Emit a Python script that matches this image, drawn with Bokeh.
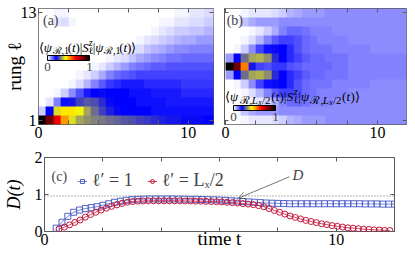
import numpy as np
from bokeh.plotting import figure
from bokeh.models import (LinearColorMapper, ColorBar, Label, Span, Arrow, OpenHead,
                          FixedTicker, Legend, LegendItem, LinearAxis, Range1d)
from bokeh.layouts import column, row
from bokeh.embed import file_html
from bokeh.resources import INLINE

SERIF = "Liberation Serif"

# ------------------------------------------------------------------
# Heat-map data: 24 time bins of width 0.5 covering t = 0 .. 12,
# one list per rung (rung 1 at the bottom).
# ------------------------------------------------------------------
heat_t0, heat_t1 = 0.0, 12.0
rung_lo, rung_hi = 1, 13

# panel (a): excitation started on rung 1
a_r01 = [1.00, 0.85, 0.68, 0.52, 0.40, 0.35, 0.33, 0.32, 0.31, 0.30, 0.29, 0.28, 0.27, 0.26, 0.25, 0.24, 0.23, 0.22, 0.22, 0.21, 0.21, 0.21, 0.20, 0.20]
a_r02 = [0.04, 0.20, 0.40, 0.45, 0.45, 0.42, 0.35, 0.30, 0.26, 0.23, 0.21, 0.20, 0.20, 0.20, 0.20, 0.19, 0.19, 0.19, 0.19, 0.19, 0.19, 0.19, 0.19, 0.19]
a_r03 = [0.00, 0.02, 0.10, 0.19, 0.22, 0.26, 0.28, 0.27, 0.24, 0.21, 0.20, 0.20, 0.20, 0.19, 0.19, 0.19, 0.19, 0.18, 0.18, 0.18, 0.18, 0.18, 0.18, 0.18]
a_r04 = [0.00, 0.00, 0.01, 0.04, 0.09, 0.14, 0.18, 0.20, 0.21, 0.20, 0.20, 0.20, 0.19, 0.19, 0.19, 0.18, 0.18, 0.18, 0.18, 0.17, 0.17, 0.17, 0.17, 0.17]
a_r05 = [0.00, 0.00, 0.00, 0.00, 0.01, 0.03, 0.06, 0.10, 0.13, 0.16, 0.17, 0.18, 0.18, 0.18, 0.17, 0.17, 0.17, 0.17, 0.17, 0.16, 0.16, 0.16, 0.16, 0.16]
a_r06 = [0.00, 0.00, 0.00, 0.00, 0.00, 0.01, 0.02, 0.04, 0.07, 0.10, 0.12, 0.13, 0.14, 0.15, 0.15, 0.15, 0.15, 0.15, 0.15, 0.15, 0.15, 0.15, 0.15, 0.15]
a_r07 = [0.00, 0.00, 0.00, 0.00, 0.00, 0.00, 0.00, 0.01, 0.02, 0.04, 0.06, 0.08, 0.10, 0.11, 0.12, 0.13, 0.13, 0.14, 0.14, 0.14, 0.14, 0.14, 0.14, 0.14]
a_r08 = [0.00, 0.00, 0.00, 0.00, 0.00, 0.00, 0.00, 0.00, 0.00, 0.01, 0.02, 0.03, 0.05, 0.07, 0.08, 0.09, 0.10, 0.11, 0.11, 0.12, 0.12, 0.12, 0.12, 0.12]
a_r09 = [0.00, 0.00, 0.00, 0.00, 0.00, 0.00, 0.00, 0.00, 0.00, 0.00, 0.00, 0.01, 0.02, 0.03, 0.05, 0.06, 0.07, 0.08, 0.09, 0.09, 0.10, 0.10, 0.10, 0.10]
a_r10 = [0.00, 0.00, 0.00, 0.00, 0.00, 0.00, 0.00, 0.00, 0.00, 0.00, 0.00, 0.00, 0.00, 0.01, 0.02, 0.03, 0.04, 0.05, 0.06, 0.07, 0.07, 0.08, 0.08, 0.08]
a_r11 = [0.00, 0.00, 0.00, 0.00, 0.00, 0.00, 0.00, 0.00, 0.00, 0.00, 0.00, 0.00, 0.00, 0.00, 0.00, 0.01, 0.02, 0.03, 0.04, 0.04, 0.05, 0.05, 0.06, 0.06]
a_r12 = [0.00, 0.00, 0.02, 0.03, 0.01, 0.00, 0.00, 0.00, 0.00, 0.00, 0.00, 0.00, 0.00, 0.00, 0.00, 0.00, 0.01, 0.01, 0.02, 0.02, 0.03, 0.03, 0.04, 0.04]
a_r13 = [0.00, 0.00, 0.01, 0.01, 0.00, 0.00, 0.00, 0.00, 0.00, 0.00, 0.00, 0.00, 0.00, 0.00, 0.00, 0.00, 0.00, 0.00, 0.01, 0.01, 0.02, 0.02, 0.03, 0.03]

# panel (b): excitation started on the central rung
b_r01 = [0.00, 0.00, 0.01, 0.02, 0.02, 0.02, 0.03, 0.04, 0.06, 0.07, 0.08, 0.08, 0.08, 0.09, 0.09, 0.09, 0.09, 0.09, 0.09, 0.09, 0.09, 0.09, 0.09, 0.09]
b_r02 = [0.00, 0.01, 0.05, 0.07, 0.08, 0.08, 0.08, 0.09, 0.09, 0.09, 0.09, 0.09, 0.09, 0.09, 0.09, 0.09, 0.09, 0.09, 0.09, 0.09, 0.09, 0.09, 0.09, 0.09]
b_r03 = [0.00, 0.00, 0.00, 0.01, 0.02, 0.04, 0.07, 0.10, 0.12, 0.12, 0.11, 0.10, 0.10, 0.10, 0.09, 0.09, 0.09, 0.09, 0.09, 0.09, 0.09, 0.09, 0.09, 0.09]
b_r04 = [0.00, 0.00, 0.01, 0.03, 0.06, 0.10, 0.13, 0.15, 0.15, 0.14, 0.12, 0.11, 0.10, 0.10, 0.10, 0.10, 0.09, 0.09, 0.09, 0.09, 0.09, 0.09, 0.09, 0.09]
b_r05 = [0.00, 0.01, 0.04, 0.09, 0.15, 0.19, 0.21, 0.20, 0.17, 0.14, 0.12, 0.11, 0.11, 0.11, 0.10, 0.10, 0.10, 0.10, 0.10, 0.09, 0.09, 0.09, 0.09, 0.09]
b_r06 = [0.08, 0.20, 0.30, 0.35, 0.36, 0.33, 0.24, 0.20, 0.17, 0.15, 0.13, 0.12, 0.12, 0.11, 0.11, 0.11, 0.10, 0.10, 0.10, 0.10, 0.10, 0.10, 0.10, 0.10]
b_r07 = [1.00, 0.85, 0.55, 0.22, 0.15, 0.14, 0.16, 0.16, 0.14, 0.13, 0.12, 0.12, 0.12, 0.12, 0.11, 0.11, 0.10, 0.10, 0.10, 0.10, 0.10, 0.10, 0.10, 0.10]
b_r08 = [0.08, 0.20, 0.30, 0.35, 0.36, 0.33, 0.24, 0.20, 0.17, 0.15, 0.13, 0.12, 0.12, 0.11, 0.11, 0.11, 0.10, 0.10, 0.10, 0.10, 0.10, 0.10, 0.10, 0.10]
b_r09 = [0.00, 0.01, 0.04, 0.09, 0.15, 0.19, 0.21, 0.20, 0.17, 0.14, 0.12, 0.11, 0.11, 0.11, 0.10, 0.10, 0.10, 0.10, 0.10, 0.09, 0.09, 0.09, 0.09, 0.09]
b_r10 = [0.00, 0.00, 0.01, 0.03, 0.06, 0.10, 0.13, 0.15, 0.15, 0.14, 0.12, 0.11, 0.10, 0.10, 0.10, 0.10, 0.09, 0.09, 0.09, 0.09, 0.09, 0.09, 0.09, 0.09]
b_r11 = [0.00, 0.00, 0.00, 0.01, 0.02, 0.04, 0.07, 0.10, 0.12, 0.12, 0.11, 0.10, 0.10, 0.10, 0.09, 0.09, 0.09, 0.09, 0.09, 0.09, 0.09, 0.09, 0.09, 0.09]
b_r12 = [0.00, 0.01, 0.05, 0.07, 0.08, 0.08, 0.08, 0.09, 0.09, 0.09, 0.09, 0.09, 0.09, 0.09, 0.09, 0.09, 0.09, 0.09, 0.09, 0.09, 0.09, 0.09, 0.09, 0.09]
b_r13 = [0.00, 0.00, 0.01, 0.02, 0.02, 0.02, 0.03, 0.04, 0.06, 0.07, 0.08, 0.08, 0.08, 0.09, 0.09, 0.09, 0.09, 0.09, 0.09, 0.09, 0.09, 0.09, 0.09, 0.09]

# ------------------------------------------------------------------
# Panel (c): D(t) for the two initial rungs
# ------------------------------------------------------------------
t_first_l1, dt_l1 = 0.4, 0.2
D_l1 = [0.09, 0.25, 0.41, 0.52, 0.58, 0.62, 0.645, 0.67, 0.71, 0.75,
        0.79, 0.82, 0.845, 0.86, 0.87, 0.875, 0.88, 0.88, 0.88, 0.88,
        0.88, 0.875, 0.875, 0.87, 0.87, 0.865, 0.86, 0.855, 0.85, 0.84,
        0.83, 0.82, 0.81, 0.80, 0.79, 0.78, 0.77, 0.765, 0.76, 0.755,
        0.75, 0.75, 0.75, 0.75, 0.75, 0.75, 0.75, 0.75, 0.75, 0.75,
        0.75, 0.75, 0.75, 0.745, 0.745, 0.745, 0.74, 0.74, 0.74]
t_first_lh, dt_lh = 0.5, 0.18
D_lh = [0.07, 0.12, 0.18, 0.245, 0.31, 0.39, 0.46, 0.52, 0.58, 0.63,
        0.68, 0.72, 0.76, 0.79, 0.81, 0.82, 0.825, 0.83, 0.83, 0.83,
        0.83, 0.83, 0.83, 0.83, 0.825, 0.825, 0.82, 0.82, 0.815, 0.81,
        0.805, 0.80, 0.79, 0.78, 0.77, 0.755, 0.74, 0.725, 0.70, 0.67,
        0.62, 0.57, 0.52, 0.47, 0.42, 0.38, 0.34, 0.30, 0.27, 0.24,
        0.21, 0.185, 0.16, 0.14, 0.12, 0.10, 0.09, 0.075, 0.065, 0.055,
        0.045, 0.04, 0.03, 0.025]
D_ref_level = 0.96

x_ticks_heat = [0, 2, 4, 6, 8, 10]
x_labels_heat = [0, 10]
y_ticks_heat = [1, 13]
x_ticks_c = [0, 2, 4, 6, 8, 10, 12]
x_labels_c = [0, 10]
y_ticks_c = [0, 1, 2]

BLUE = "#4f62c9"
RED = "#c4173a"
FRAME = "#5a5a5a"

# ------------------------------------------------------------------
# colour map white -> blue -> yellow -> red -> black
# ------------------------------------------------------------------
anchors = [(0.0, (255, 255, 255)), (0.2, (0, 0, 255)), (0.43, (255, 255, 0)),
           (0.66, (255, 0, 0)), (1.0, (0, 0, 0))]


def make_palette(n=256):
    pal = []
    for i in range(n):
        v = i / (n - 1)
        for (v0, c0), (v1, c1) in zip(anchors[:-1], anchors[1:]):
            if v0 <= v <= v1:
                f = (v - v0) / (v1 - v0)
                c = [int(round(a + (b - a) * f)) for a, b in zip(c0, c1)]
                break
        pal.append("#%02x%02x%02x" % tuple(c))
    return pal


mapper = LinearColorMapper(palette=make_palette(), low=0.0, high=1.0)

EM = {'⟨': 0.39, '⟩': 0.39, 'ψ': 0.69, 'ℛ': 0.8, ',': 0.25, '1': 0.5, '(': 0.33,
      ')': 0.33, 't': 0.28, '|': 0.2, 'S': 0.5, 'z': 0.39, 'ℓ': 0.42, 'L': 0.56,
      'x': 0.44, '/': 0.28, '2': 0.5, ' ': 0.25}


def text_width(s, size):
    return sum(EM.get(ch, 0.5) for ch in s) * size


def rich(p, x, y, parts, x0=0.0, gap=1.0):
    dx = x0
    for text, size, dy, style, adv in parts:
        p.add_layout(Label(x=x, y=y, x_offset=dx, y_offset=dy, text=text,
                           text_font=SERIF, text_font_size=f"{size}px",
                           text_font_style=style, text_baseline="alphabetic",
                           text_align="left", text_color="black"))
        if adv:
            dx += text_width(text, size) * gap


def style_axis(ax, ticks, shown, size="16px", hide=False):
    ax.ticker = FixedTicker(ticks=ticks)
    ax.major_label_overrides = {t: (str(t) if (t in shown and not hide) else "") for t in ticks}
    ax.major_tick_in = 4
    ax.major_tick_out = 0
    ax.minor_tick_line_color = None
    ax.axis_line_color = None
    ax.major_tick_line_color = FRAME
    ax.major_label_text_font = SERIF
    ax.major_label_text_font_size = "0px" if hide else size
    ax.major_label_standoff = 0 if hide else 2
    ax.major_label_text_color = "black"
    ax.axis_label_text_font = SERIF
    ax.axis_label_text_color = "black"


def mirror(p, xticks, yticks):
    top = LinearAxis()
    style_axis(top, xticks, [], hide=True)
    p.add_layout(top, "above")
    right = LinearAxis()
    style_axis(right, yticks, [], hide=True)
    p.add_layout(right, "right")


def base_fig(w, h, xr, yr, bl, br, bt, bb):
    p = figure(width=w, height=h, x_range=Range1d(*xr), y_range=Range1d(*yr),
               output_backend="svg", toolbar_location=None,
               min_border_left=bl, min_border_right=br, min_border_top=bt,
               min_border_bottom=bb)
    p.xgrid.visible = False
    p.ygrid.visible = False
    p.outline_line_color = FRAME
    p.outline_line_width = 1
    p.background_fill_color = "white"
    p.border_fill_color = "white"
    return p


def heat_panel(p, rows):
    img = np.array(rows, dtype=float)
    p.image(image=[img], x=heat_t0, y=rung_lo - 0.5, dw=heat_t1 - heat_t0,
            dh=rung_hi - rung_lo + 1, color_mapper=mapper)


def colour_bar(loc):
    return ColorBar(color_mapper=mapper, orientation="horizontal", location=loc,
                    width=42, height=5, padding=0, margin=0,
                    ticker=FixedTicker(ticks=[0, 1]), major_label_text_font=SERIF,
                    major_label_text_font_size="13px", major_tick_line_color=None,
                    bar_line_color="black", border_line_color=None,
                    background_fill_alpha=0, label_standoff=2)


def bracket_parts(sub_parts, M=13):
    return ([("⟨", M, 0, "normal", True), ("ψ", M, 0, "italic", True)] + sub_parts +
            [("(", M, 0, "normal", True), ("t", M, 0, "italic", True),
             (")|", M, 0, "normal", True), ("S", M, 0, "italic", True),
             ("z", 10, 5, "italic", False), ("ℓ", 10, -3, "normal", True),
             ("|", M, 0, "normal", True), ("ψ", M, 0, "italic", True)] + sub_parts +
            [("(", M, 0, "normal", True), ("t", M, 0, "italic", True),
             (")⟩", M, 0, "normal", True)])


# ------------------------------------------------------------------
# panel (a)
# ------------------------------------------------------------------
pa = base_fig(216, 145, (0, 11.69), (0.5, 13.5), 33, 3, 8, 21)
heat_panel(pa, [a_r01, a_r02, a_r03, a_r04, a_r05, a_r06, a_r07, a_r08, a_r09,
                a_r10, a_r11, a_r12, a_r13])
style_axis(pa.xaxis[0], x_ticks_heat, x_labels_heat)
style_axis(pa.yaxis[0], y_ticks_heat, y_ticks_heat)
pa.yaxis[0].axis_label = "rung ℓ"
pa.yaxis[0].axis_label_text_font_size = "19px"
pa.yaxis[0].axis_label_text_font_style = "normal"
pa.yaxis[0].axis_label_standoff = -7
mirror(pa, x_ticks_heat, y_ticks_heat)
pa.add_layout(Label(x=0.3, y=12.15, text="(a)", text_font=SERIF, text_font_size="14px",
                    text_baseline="middle", text_align="left"))
pa.add_layout(colour_bar((9, 51)))
rich(pa, 0.02, 9.13, bracket_parts([("ℛ,1", 10, -3, "normal", True)]), gap=0.98)

# ------------------------------------------------------------------
# panel (b)
# ------------------------------------------------------------------
pb = base_fig(191, 145, (-0.07, 11.9), (0.5, 13.5), 8, 1, 8, 21)
heat_panel(pb, [b_r01, b_r02, b_r03, b_r04, b_r05, b_r06, b_r07, b_r08, b_r09,
                b_r10, b_r11, b_r12, b_r13])
style_axis(pb.xaxis[0], x_ticks_heat, x_labels_heat)
style_axis(pb.yaxis[0], y_ticks_heat, [], hide=True)
mirror(pb, x_ticks_heat, y_ticks_heat)
pb.add_layout(Label(x=0.07, y=12.15, text="(b)", text_font=SERIF, text_font_size="14px",
                    text_baseline="middle", text_align="left"))
pb.add_layout(colour_bar((9, 1)))
rich(pb, -0.06, 3.63, bracket_parts([("ℛ,", 11, -3, "normal", True),
                                     ("L", 11, -3, "italic", True),
                                     ("x", 8, -6, "italic", True),
                                     ("/2", 11, -3, "normal", True)]), gap=1.06)

# ------------------------------------------------------------------
# panel (c)
# ------------------------------------------------------------------
pc = base_fig(407, 108, (0, 12), (0, 2), 41, 13, 12, 22)
style_axis(pc.xaxis[0], x_ticks_c, x_labels_c)
style_axis(pc.yaxis[0], y_ticks_c, y_ticks_c)
pc.xaxis[0].axis_label = "time t"
pc.xaxis[0].axis_label_text_font_size = "19px"
pc.xaxis[0].axis_label_text_font_style = "normal"
pc.xaxis[0].axis_label_standoff = -20
pc.yaxis[0].axis_label = "D(t)"
pc.yaxis[0].axis_label_text_font_size = "18px"
pc.yaxis[0].axis_label_text_font_style = "italic"
pc.yaxis[0].axis_label_standoff = 8
mirror(pc, x_ticks_c, y_ticks_c)

t_l1 = [round(t_first_l1 + dt_l1 * i, 3) for i in range(len(D_l1))]
t_lh = [round(t_first_lh + dt_lh * i, 3) for i in range(len(D_lh))]

pc.add_layout(Span(location=D_ref_level, dimension="width", line_color="#666666",
                   line_dash="1 2", line_width=1))
bl = pc.line(t_l1, D_l1, line_color=BLUE, line_width=0.8)
bs = pc.scatter(t_l1, D_l1, marker="square", size=6, fill_color=None,
                line_color=BLUE, line_width=1)
rl = pc.line(t_lh, D_lh, line_color=RED, line_width=0.8)
rs = pc.scatter(t_lh, D_lh, marker="circle", size=6, fill_color=None,
                line_color=RED, line_width=1)

legend = Legend(items=[LegendItem(label="ℓ′ = 1", renderers=[bl, bs]),
                       LegendItem(label="ℓ′ = Lₓ/2", renderers=[rl, rs])],
                orientation="horizontal", location=(33, 40), glyph_width=10,
                glyph_height=10, label_standoff=5, spacing=14, padding=0, margin=0,
                background_fill_alpha=0, border_line_color=None,
                label_text_font=SERIF, label_text_font_size="18px")
pc.add_layout(legend)
pc.add_layout(Label(x=0.24, y=1.5, text="(c)", text_font=SERIF, text_font_size="14px",
                    text_baseline="middle", text_align="left"))
pc.add_layout(Arrow(end=OpenHead(size=7, line_color="#555555", line_width=0.8),
                    x_start=8.4, y_start=1.48, x_end=6.65, y_end=0.9,
                    line_color="#555555", line_width=0.8))
pc.add_layout(Label(x=8.5, y=1.53, text="D", text_font=SERIF, text_font_size="15px",
                    text_font_style="italic", text_baseline="middle", text_align="left"))

layout = column(row(pa, pb), pc)
open("out.html", "w").write(file_html(layout, INLINE, title="D(t)"))
